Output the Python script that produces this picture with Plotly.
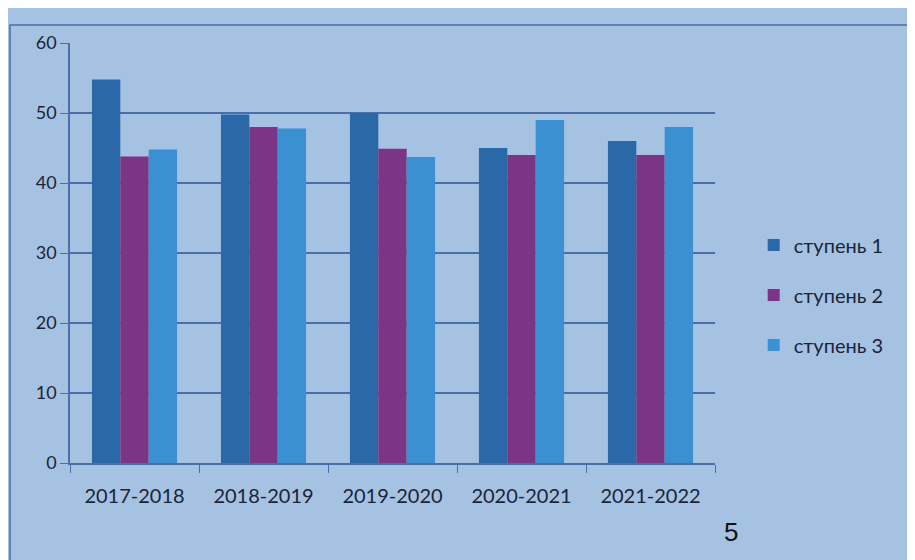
import plotly.graph_objects as go

categories = ["2017-2018", "2018-2019", "2019-2020", "2020-2021", "2021-2022"]
stage1 = [54.8, 49.8, 50.0, 45.0, 46.0]
stage2 = [43.8, 48.0, 44.9, 44.0, 44.0]
stage3 = [44.8, 47.8, 43.7, 49.0, 48.0]
series_names = ["ступень 1", "ступень 2", "ступень 3"]
colors = ["#2a68a8", "#7b3585", "#3a90d0"]

fig = go.Figure()
for name, vals, col in zip(series_names, [stage1, stage2, stage3], colors):
    fig.add_trace(go.Bar(x=categories, y=vals, name=name, marker_color=col,
                         marker_line_width=0, legendgroup=name))

bg = "#a5c2e2"
grid = "#4a6ea8"
txt = "#1a2438"
fig.update_layout(
    width=907, height=552,
    paper_bgcolor=bg, plot_bgcolor=bg,
    margin=dict(l=62, r=200, t=35, b=97),
    barmode="group", bargap=0.34, bargroupgap=0,
    font=dict(family="Lato, Open Sans, sans-serif", size=18, color=txt),
    legend=dict(x=1.06, y=0.40, xanchor="left", yanchor="middle",
                bgcolor="rgba(0,0,0,0)", font=dict(size=20, color=txt),
                tracegroupgap=21, itemwidth=30, traceorder="grouped"),
    showlegend=True,
)
fig.update_yaxes(range=[0, 60], dtick=10, showgrid=True, gridcolor=grid, gridwidth=1.5,
                 showline=True, linecolor=grid, linewidth=1.5, ticks="outside",
                 ticklen=8, tickcolor=grid, zeroline=False,
                 tickfont=dict(size=18, color=txt))
fig.update_xaxes(showline=True, linecolor=grid, linewidth=1.5, ticks="outside",
                 tickson="boundaries", ticklen=8, tickcolor=grid,
                 ticklabelstandoff=14,
                 tickfont=dict(size=20, color=txt))
fig.add_shape(type="rect", xref="paper", yref="paper", x0=-0.093, x1=1.5, y0=-0.3, y1=1.043,
              line=dict(color=grid, width=1.5), fillcolor="rgba(0,0,0,0)", layer="below")
fig.add_annotation(text="5", xref="paper", yref="paper", x=1.025, y=-0.165,
                   xanchor="center", yanchor="middle",
                   showarrow=False, font=dict(size=26, color="#111111",
                                              family="Liberation Sans, sans-serif"))
fig.write_html("out.html")
